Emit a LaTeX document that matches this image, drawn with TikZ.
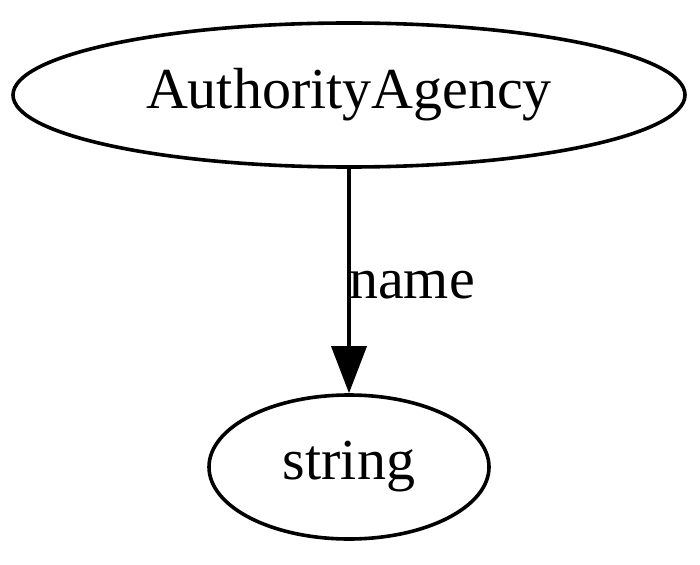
\documentclass[tikz,border=0pt]{standalone}
\usepackage{fontspec}
\setmainfont{Liberation Serif}
\usetikzlibrary{shapes.geometric,arrows.meta}
\begin{document}
\begin{tikzpicture}[x=1pt,y=-1pt,
  nodeell/.style={ellipse, draw, line width=3.6pt, inner sep=0pt, minimum height=144pt, font=\fontsize{58}{62}\selectfont},
  edgelbl/.style={font=\fontsize{58}{62}\selectfont, inner sep=0pt}]
\useasboundingbox (0,0) rectangle (700,564);
\node[nodeell, minimum width=672pt] (a) at (349,95) {AuthorityAgency};
\node[nodeell, minimum width=280pt] (s) at (349,467) {string};
\draw[line width=3.6pt, -{Triangle[length=47pt,width=35pt]}] (a) -- (s);
\node[edgelbl, anchor=base west] (lbl) at (349,298) {name};
\end{tikzpicture}
\end{document}
